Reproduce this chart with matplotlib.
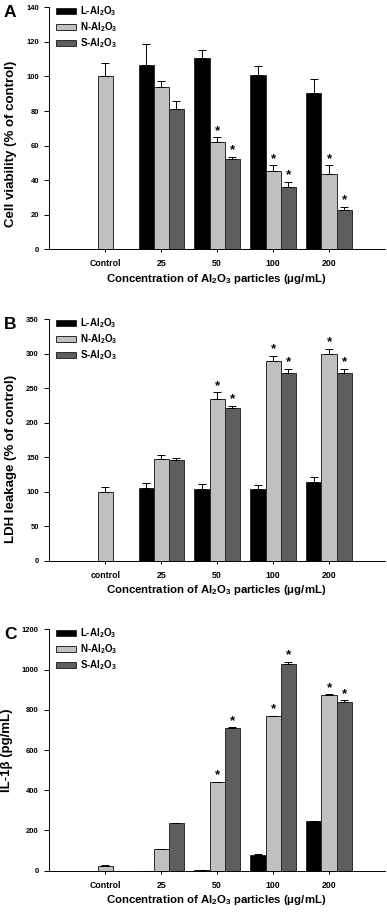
import numpy as np
import matplotlib
matplotlib.use("Agg")
import matplotlib.pyplot as plt

plt.rcParams['font.family'] = ['Liberation Sans', 'DejaVu Sans']
plt.rcParams['font.weight'] = 'bold'
plt.rcParams['mathtext.fontset'] = 'custom'
plt.rcParams['mathtext.rm'] = 'Liberation Sans:bold'
plt.rcParams['mathtext.it'] = 'Liberation Sans:bold'
plt.rcParams['mathtext.bf'] = 'Liberation Sans:bold'
plt.rcParams['mathtext.default'] = 'rm'

nan = np.nan

# groups on the x axis
groups_A = ['Control', '25', '50', '100', '200']
groups_B = ['control', '25', '50', '100', '200']
groups_C = ['Control', '25', '50', '100', '200']

series = ['L-Al$_2$O$_3$', 'N-Al$_2$O$_3$', 'S-Al$_2$O$_3$']

# A: cell viability (% of control)
via_L = [nan, 106.5, 110.8, 101.0, 90.3]
via_L_err = [nan, 12.0, 4.3, 5.0, 8.5]
via_N = [100.0, 94.0, 62.0, 45.5, 43.7]
via_N_err = [7.8, 3.2, 2.9, 3.0, 4.8]
via_S = [nan, 81.3, 52.0, 36.0, 23.0]
via_S_err = [nan, 4.7, 1.6, 3.2, 1.6]

# B: LDH leakage (% of control)
ldh_L = [nan, 106.0, 104.5, 103.5, 114.0]
ldh_L_err = [nan, 6.8, 6.2, 6.3, 6.8]
ldh_N = [100.0, 147.0, 235.0, 290.0, 300.3]
ldh_N_err = [6.3, 6.3, 9.0, 7.4, 6.7]
ldh_S = [nan, 145.5, 222.0, 271.5, 271.5]
ldh_S_err = [nan, 3.5, 3.0, 6.3, 6.7]

# C: IL-1beta (pg/mL)
il_L = [nan, 0.0, 2.0, 79.0, 245.0]
il_L_err = [nan, 0.0, 0.0, 2.0, 4.0]
il_N = [25.0, 106.0, 439.0, 768.0, 875.0]
il_N_err = [2.0, 2.0, 3.0, 3.0, 2.0]
il_S = [nan, 235.0, 708.0, 1030.0, 839.0]
il_S_err = [nan, 4.0, 5.0, 7.0, 8.0]

# significance markers (N and S at 50, 100, 200)
sig_N = [False, False, True, True, True]
sig_S = [False, False, True, True, True]

COLORS = ['#000000', '#c0c0c0', '#5e5e5e']
EDGE = '#2a2a2a'
W = 0.27

fig = plt.figure(figsize=(3.87, 9.15), dpi=100)


def panel(rect, letter, labels, data, ymax, ystep, ylabel, ylab_xy):
    ax = fig.add_axes(rect)
    x = np.arange(len(labels))
    for k, (vals, errs) in enumerate(data):
        vals = np.array(vals)
        errs = np.array(errs)
        pos = x + (k - 1) * W
        ok = ~np.isnan(vals)
        ax.bar(pos[ok], vals[ok], W, color=COLORS[k], edgecolor=EDGE,
               linewidth=0.7, label=series[k], zorder=2)
        e = np.nan_to_num(errs[ok])
        ax.errorbar(pos[ok], vals[ok], yerr=[np.zeros_like(e), e], fmt='none',
                    ecolor='black', elinewidth=0.7, capsize=2.8, capthick=0.7,
                    zorder=3)
        if k > 0:
            sig = sig_N if k == 1 else sig_S
            for p, v, er, s in zip(pos[ok], vals[ok], e, np.array(sig)[ok]):
                if s:
                    ax.annotate('*', (p, v + er), xytext=(0, 2.5),
                                textcoords='offset points', ha='center',
                                va='baseline', fontsize=9.5, fontweight='bold')
    ax.set_xlim(-1, 5)
    ax.set_ylim(0, ymax)
    ax.set_yticks(np.arange(0, ymax + 1, ystep))
    ax.set_xticks(x)
    ax.set_xticklabels(labels)
    ax.spines[['right', 'top']].set_visible(False)
    for sp in ['left', 'bottom']:
        ax.spines[sp].set_linewidth(0.7)
    ax.tick_params(axis='y', labelsize=5.5, length=3.5, width=0.7, pad=4)
    ax.tick_params(axis='x', labelsize=6.3, length=2.2, width=0.7, pad=5)
    ax.set_xlabel('Concentration of Al$_2$O$_3$ particles (\u03bcg/mL)',
                  fontsize=8.2, fontweight='bold')
    ax.xaxis.set_label_coords(0.497, -0.093)
    ax.set_ylabel(ylabel, fontsize=9.5, fontweight='bold')
    ax.yaxis.set_label_coords(*ylab_xy)
    ax.legend(loc='upper left', bbox_to_anchor=(0.02, 1.012), frameon=False,
              prop={'size': 7, 'weight': 'bold'}, handlelength=2.05,
              handleheight=0.55, labelspacing=0.22, handletextpad=0.4,
              borderpad=0, borderaxespad=0)
    ax.text(-0.135, 1.008, letter, transform=ax.transAxes, fontsize=12.5,
            fontweight='bold', ha='left', va='top')
    return ax


panel([0.1274, 0.7275, 0.8674, 0.2645], 'A', groups_A,
      [(via_L, via_L_err), (via_N, via_N_err), (via_S, via_S_err)],
      140, 20, 'Cell viability (% of control)', (-0.096, 0.437))
panel([0.1274, 0.3872, 0.8674, 0.2638], 'B', groups_B,
      [(ldh_L, ldh_L_err), (ldh_N, ldh_N_err), (ldh_S, ldh_S_err)],
      350, 50, 'LDH leakage (% of control)', (-0.096, 0.421))
panel([0.1274, 0.0484, 0.8674, 0.2638], 'C', groups_C,
      [(il_L, il_L_err), (il_N, il_N_err), (il_S, il_S_err)],
      1200, 200, 'IL-1\u03b2 (pg/mL)', (-0.108, 0.5))

fig.savefig('out.png', dpi=100)
